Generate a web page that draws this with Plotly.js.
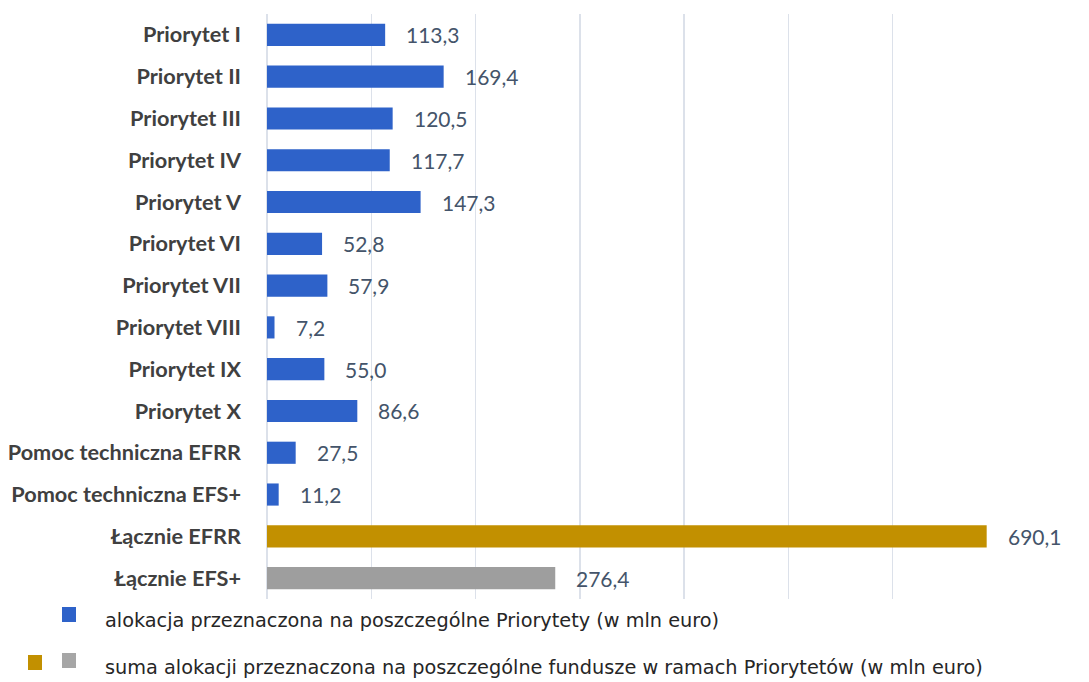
<!DOCTYPE html>
<html>
<head>
<meta charset="utf-8">
<script src="https://cdn.plot.ly/plotly-3.0.1.min.js"></script>
<style>html,body{margin:0;padding:0;background:#fff;}#chart{width:1089px;height:682px;}</style>
</head>
<body>
<div id="chart"></div>
<script>
// Data
const priorityCategories = ["Priorytet I","Priorytet II","Priorytet III","Priorytet IV","Priorytet V","Priorytet VI","Priorytet VII","Priorytet VIII","Priorytet IX","Priorytet X","Pomoc techniczna EFRR","Pomoc techniczna EFS+"];
const priorityValues = [113.3,169.4,120.5,117.7,147.3,52.8,57.9,7.2,55.0,86.6,27.5,11.2];
const efrrCategory = ["Łącznie EFRR"];
const efrrValue = [690.1];
const efsCategory = ["Łącznie EFS+"];
const efsValue = [276.4];
const legendLabels = ["alokacja przeznaczona na poszczególne Priorytety (w mln euro)","suma alokacji przeznaczona na poszczególne fundusze w ramach Priorytetów (w mln euro)"];

const allCategories = priorityCategories.concat(efrrCategory, efsCategory);
const fmt = v => v.toFixed(1).replace('.', ',');

const traces = [
  {type:'bar', orientation:'h', y:priorityCategories, x:priorityValues, marker:{color:'#2E62C9'}, hoverinfo:'x+y'},
  {type:'bar', orientation:'h', y:efrrCategory, x:efrrValue, marker:{color:'#C29000'}, hoverinfo:'x+y'},
  {type:'bar', orientation:'h', y:efsCategory, x:efsValue, marker:{color:'#9E9E9E'}, hoverinfo:'x+y'}
];

const annotations = [];
const addLabels = (cats, vals) => cats.forEach((c,i) => annotations.push({
  x: vals[i], y: c, xref:'x', yref:'y', text: fmt(vals[i]), showarrow:false,
  xanchor:'left', yanchor:'middle', xshift:19,
  font:{family:'Lato, sans-serif', size:21, color:'#44546A'}
}));
addLabels(priorityCategories, priorityValues);
addLabels(efrrCategory, efrrValue);
addLabels(efsCategory, efsValue);

const W=1089, H=682, ml=267, mr=92, mt=14, mb=83;
const pw=W-ml-mr, ph=H-mt-mb;
const px = x => (x-ml)/pw, py = y => (H-mb-y)/ph;

// Legend (custom)
[[103,620],[103,667]].forEach((p,i) => annotations.push({
  x:px(p[0]), y:py(p[1]), xref:'paper', yref:'paper', text:legendLabels[i], showarrow:false,
  xanchor:'left', yanchor:'middle',
  font:{family:'DejaVu Sans, sans-serif', size:19.3, color:'#262626'}
}));

const shapes = [
  {type:'rect', xref:'paper', yref:'paper', x0:px(62), x1:px(76), y0:py(622), y1:py(607), fillcolor:'#2E62C9', line:{width:0}},
  {type:'rect', xref:'paper', yref:'paper', x0:px(28), x1:px(42), y0:py(670), y1:py(655), fillcolor:'#C29000', line:{width:0}},
  {type:'rect', xref:'paper', yref:'paper', x0:px(62), x1:px(76), y0:py(668), y1:py(653), fillcolor:'#A6A6A6', line:{width:0}}
];

const layout = {
  width:W, height:H,
  margin:{l:ml, r:mr, t:mt, b:mb, pad:0},
  paper_bgcolor:'#fff', plot_bgcolor:'#fff',
  barmode:'overlay', bargap:0.47, showlegend:false,
  xaxis:{range:[0,700], dtick:100, showgrid:true, gridcolor:'#DCE1EA', gridwidth:1.3, zeroline:true, zerolinecolor:'#DCE1EA', zerolinewidth:1.3, showticklabels:false, ticks:'', fixedrange:true},
  yaxis:{categoryorder:'array', categoryarray:allCategories, autorange:'reversed', showgrid:false, zeroline:false, ticks:'', ticklabelstandoff:25,
    tickfont:{family:'Lato, sans-serif', size:21.7, color:'#404040', weight:'bold'}},
  annotations, shapes
};

Plotly.newPlot('chart', traces, layout, {displayModeBar:false, staticPlot:true});
</script>
</body>
</html>
